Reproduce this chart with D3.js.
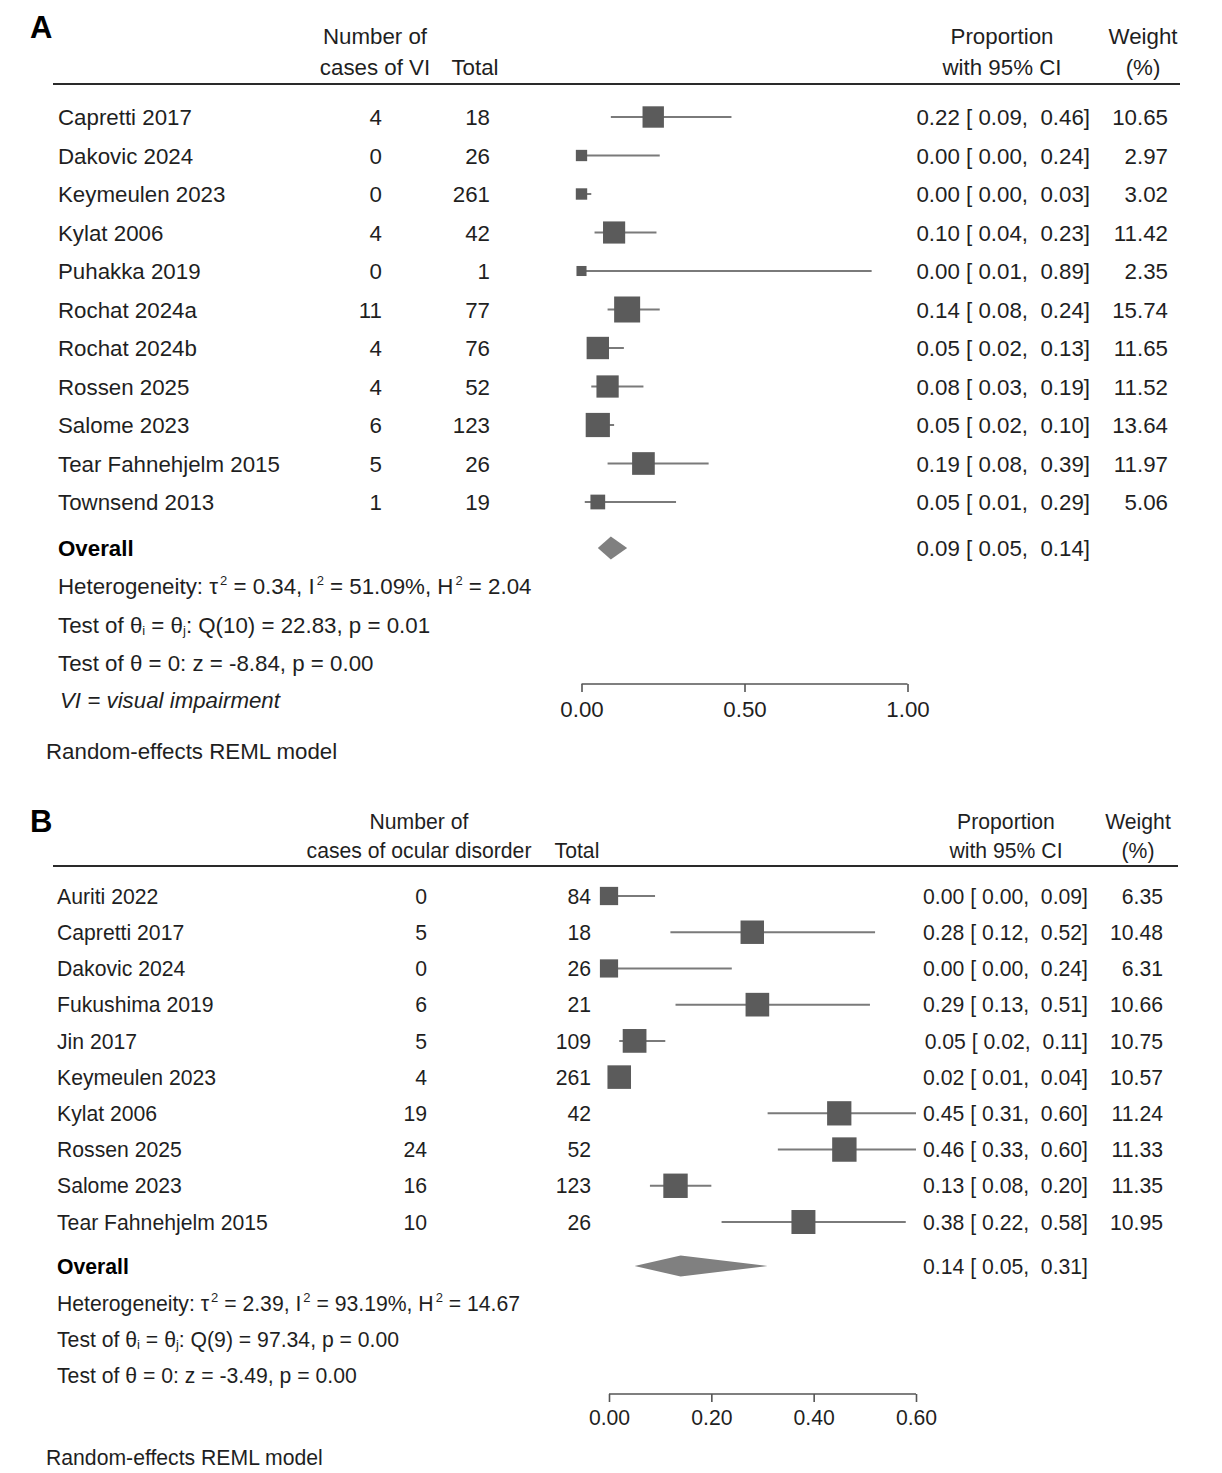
<!DOCTYPE html>
<html>
<head>
<meta charset="utf-8">
<script src="https://cdn.jsdelivr.net/npm/d3@7"></script>
<style>
  html, body { margin: 0; padding: 0; background: #fff; }
  svg text { font-family: "Liberation Sans", Arial, Helvetica, sans-serif; fill: #1f1f1f; }
</style>
</head>
<body>
<svg id="chart" width="1222" height="1473"></svg>
<script>
// ---------- Panel A data ----------
const studiesA = ["Capretti 2017", "Dakovic 2024", "Keymeulen 2023", "Kylat 2006", "Puhakka 2019",
  "Rochat 2024a", "Rochat 2024b", "Rossen 2025", "Salome 2023", "Tear Fahnehjelm 2015", "Townsend 2013"];
const casesA  = [4, 0, 0, 4, 0, 11, 4, 4, 6, 5, 1];
const totalA  = [18, 26, 261, 42, 1, 77, 76, 52, 123, 26, 19];
const propA   = [0.22, 0.00, 0.00, 0.10, 0.00, 0.14, 0.05, 0.08, 0.05, 0.19, 0.05];
const lowA    = [0.09, 0.00, 0.00, 0.04, 0.01, 0.08, 0.02, 0.03, 0.02, 0.08, 0.01];
const highA   = [0.46, 0.24, 0.03, 0.23, 0.89, 0.24, 0.13, 0.19, 0.10, 0.39, 0.29];
const weightA = [10.65, 2.97, 3.02, 11.42, 2.35, 15.74, 11.65, 11.52, 13.64, 11.97, 5.06];
const overallA = [0.09, 0.05, 0.14];
const ticksA = [0, 0.5, 1.0];
const statsA = {
  tau2: "0.34", I2: "51.09%", H2: "2.04", df: "10", Q: "22.83", pQ: "0.01", z: "-8.84", pz: "0.00"
};

// ---------- Panel B data ----------
const studiesB = ["Auriti 2022", "Capretti 2017", "Dakovic 2024", "Fukushima 2019", "Jin 2017",
  "Keymeulen 2023", "Kylat 2006", "Rossen 2025", "Salome 2023", "Tear Fahnehjelm 2015"];
const casesB  = [0, 5, 0, 6, 5, 4, 19, 24, 16, 10];
const totalB  = [84, 18, 26, 21, 109, 261, 42, 52, 123, 26];
const propB   = [0.00, 0.28, 0.00, 0.29, 0.05, 0.02, 0.45, 0.46, 0.13, 0.38];
const lowB    = [0.00, 0.12, 0.00, 0.13, 0.02, 0.01, 0.31, 0.33, 0.08, 0.22];
const highB   = [0.09, 0.52, 0.24, 0.51, 0.11, 0.04, 0.60, 0.60, 0.20, 0.58];
const weightB = [6.35, 10.48, 6.31, 10.66, 10.75, 10.57, 11.24, 11.33, 11.35, 10.95];
const overallB = [0.14, 0.05, 0.31];
const ticksB = [0, 0.2, 0.4, 0.6];
const statsB = {
  tau2: "2.39", I2: "93.19%", H2: "14.67", df: "9", Q: "97.34", pQ: "0.00", z: "-3.49", pz: "0.00"
};

const svg = d3.select("#chart");
const f2 = d3.format(".2f");

function panel(cfg) {
  const FS = cfg.fs;
  const SUP = Math.round(FS * 0.6);
  const g = svg.append("g");
  const n = cfg.studies.length;
  const x = d3.scaleLinear().domain(cfg.domain).range(cfg.xRange);
  const y = d3.scaleLinear().domain([0, n - 1]).range([cfg.firstRowY, cfg.lastRowY]);
  const size = d3.scaleSqrt().domain([0, d3.max(cfg.weight)]).range([0, cfg.maxBox]);
  const base = FS * 0.36; // baseline offset from visual center

  // panel letter
  g.append("text").attr("x", 30).attr("y", cfg.letterY).attr("font-size", 31)
    .attr("font-weight", "bold").style("fill", "#000").text(cfg.letter);

  // headers
  const hdr = (t, xx, yy, anchor) => g.append("text").attr("x", xx).attr("y", yy + base)
    .attr("font-size", FS).attr("text-anchor", anchor || "middle").text(t);
  hdr("Number of", cfg.casesHdrX, cfg.hdr1Y);
  hdr(cfg.casesLabel, cfg.casesHdrX, cfg.hdr2Y);
  hdr("Total", cfg.totalHdrX, cfg.hdr2Y);
  hdr("Proportion", cfg.propHdrX, cfg.hdr1Y);
  hdr("with 95% CI", cfg.propHdrX, cfg.hdr2Y);
  hdr("Weight", cfg.wHdrX, cfg.hdr1Y);
  hdr("(%)", cfg.wHdrX, cfg.hdr2Y);

  g.append("line").attr("x1", 53).attr("x2", cfg.lineX2)
    .attr("y1", cfg.hdrLineY).attr("y2", cfg.hdrLineY)
    .attr("stroke", "#2a2a2a").attr("stroke-width", 2);

  const rows = d3.range(n);
  // text columns
  g.selectAll(".nm").data(rows).join("text")
    .attr("x", cfg.nameX).attr("y", i => y(i) + base).attr("font-size", FS)
    .text(i => cfg.studies[i]);
  g.selectAll(".cs").data(rows).join("text")
    .attr("x", cfg.casesRight).attr("y", i => y(i) + base).attr("font-size", FS)
    .attr("text-anchor", "end").text(i => cfg.cases[i]);
  g.selectAll(".tt").data(rows).join("text")
    .attr("x", cfg.totalRight).attr("y", i => y(i) + base).attr("font-size", FS)
    .attr("text-anchor", "end").text(i => cfg.total[i]);
  const ciStr = (p, l, h) => `${f2(p)} [ ${f2(l)},  ${f2(h)}]`;
  g.selectAll(".ci").data(rows).join("text")
    .attr("x", cfg.ciRight).attr("y", i => y(i) + base).attr("font-size", FS)
    .attr("text-anchor", "end").style("white-space", "pre")
    .text(i => ciStr(cfg.prop[i], cfg.low[i], cfg.high[i]));
  g.selectAll(".wt").data(rows).join("text")
    .attr("x", cfg.wRight).attr("y", i => y(i) + base).attr("font-size", FS)
    .attr("text-anchor", "end").text(i => f2(cfg.weight[i]));

  // CI lines
  g.selectAll(".cil").data(rows).join("line")
    .attr("x1", i => x(cfg.low[i])).attr("x2", i => x(cfg.high[i]))
    .attr("y1", i => y(i)).attr("y2", i => y(i))
    .attr("stroke", "#7a7a7a").attr("stroke-width", 2);
  // boxes
  g.selectAll(".box").data(rows).join("rect")
    .attr("x", i => x(cfg.prop[i]) - size(cfg.weight[i]) / 2)
    .attr("y", i => y(i) - size(cfg.weight[i]) / 2)
    .attr("width", i => size(cfg.weight[i]))
    .attr("height", i => size(cfg.weight[i]))
    .attr("fill", "#5b5b5b");

  // overall
  g.append("text").attr("x", cfg.nameX).attr("y", cfg.overallY + base).attr("font-size", FS)
    .attr("font-weight", "bold").style("fill", "#000").text("Overall");
  const [op, ol, oh] = cfg.overall;
  const dh = cfg.diamondH / 2;
  g.append("path")
    .attr("d", `M${x(ol)},${cfg.overallY} L${x(op)},${cfg.overallY - dh} L${x(oh)},${cfg.overallY} L${x(op)},${cfg.overallY + dh} Z`)
    .attr("fill", "#808080");
  g.append("text").attr("x", cfg.ciRight).attr("y", cfg.overallY + base).attr("font-size", FS)
    .attr("text-anchor", "end").style("white-space", "pre").text(ciStr(op, ol, oh));

  // stats
  const s = cfg.stats;
  const t1 = g.append("text").attr("x", cfg.nameX).attr("y", cfg.statY[0] + base).attr("font-size", FS)
    .style("white-space", "pre");
  t1.append("tspan").text("Heterogeneity: τ");
  t1.append("tspan").attr("font-size", SUP).attr("dy", -9).attr("dx", 2).text("2");
  t1.append("tspan").attr("dy", 9).text(` = ${s.tau2}, I`);
  t1.append("tspan").attr("font-size", SUP).attr("dy", -9).attr("dx", 2).text("2");
  t1.append("tspan").attr("dy", 9).text(` = ${s.I2}, H`);
  t1.append("tspan").attr("font-size", SUP).attr("dy", -9).attr("dx", 2).text("2");
  t1.append("tspan").attr("dy", 9).text(` = ${s.H2}`);

  const t2 = g.append("text").attr("x", cfg.nameX).attr("y", cfg.statY[1] + base).attr("font-size", FS);
  t2.append("tspan").text("Test of θ");
  t2.append("tspan").attr("font-size", SUP).attr("dy", 2).text("i");
  t2.append("tspan").attr("dy", -2).text(" = θ");
  t2.append("tspan").attr("font-size", SUP).attr("dy", 2).text("j");
  t2.append("tspan").attr("dy", -2).text(`: Q(${s.df}) = ${s.Q}, p = ${s.pQ}`);

  g.append("text").attr("x", cfg.nameX).attr("y", cfg.statY[2] + base).attr("font-size", FS)
    .text(`Test of θ = 0: z = ${s.z}, p = ${s.pz}`);

  if (cfg.note) {
    g.append("text").attr("x", cfg.nameX + 2).attr("y", cfg.noteY + base).attr("font-size", FS)
      .attr("font-style", "italic").text(cfg.note);
  }

  // axis
  const ax = g.append("g").attr("transform", `translate(0,${cfg.axisY})`)
    .call(d3.axisBottom(x).tickValues(cfg.ticks).tickFormat(f2).tickSize(8).tickSizeOuter(0));
  ax.select(".domain").attr("stroke", "#555").attr("stroke-width", 1.6);
  ax.selectAll(".tick line").attr("stroke", "#555").attr("stroke-width", 1.6);
  ax.selectAll(".tick text").attr("font-size", FS).attr("font-family", "Liberation Sans, Arial, sans-serif")
    .style("fill", "#1f1f1f").attr("y", 0).attr("dy", cfg.tickLabelDy);
  ax.select(".domain").attr("d", `M${cfg.xRange[0]},0H${x(cfg.domain[1])}`);

  g.append("text").attr("x", 46).attr("y", cfg.modelY + base).attr("font-size", FS)
    .text("Random-effects REML model");
}

panel({
  letter: "A", letterY: 38, fs: 22.3,
  studies: studiesA, cases: casesA, total: totalA, prop: propA, low: lowA, high: highA,
  weight: weightA, overall: overallA, stats: statsA, ticks: ticksA,
  domain: [0, 1], xRange: [581.5, 907.5],
  firstRowY: 117, lastRowY: 502, overallY: 548, statY: [586, 625, 663], noteY: 700,
  note: "VI = visual impairment",
  axisY: 684, tickLabelDy: 33, modelY: 751,
  hdr1Y: 36, hdr2Y: 67, hdrLineY: 84, lineX2: 1180,
  casesLabel: "cases of VI", casesHdrX: 375, totalHdrX: 475, propHdrX: 1002, wHdrX: 1143,
  nameX: 58, casesRight: 382, totalRight: 490, ciRight: 1090, wRight: 1168,
  maxBox: 26, diamondH: 23
});

panel({
  letter: "B", letterY: 832, fs: 21.2,
  studies: studiesB, cases: casesB, total: totalB, prop: propB, low: lowB, high: highB,
  weight: weightB, overall: overallB, stats: statsB, ticks: ticksB,
  domain: [0, 0.6], xRange: [609, 916],
  firstRowY: 896, lastRowY: 1222, overallY: 1266, statY: [1303, 1339, 1375], noteY: null,
  note: null,
  axisY: 1394, tickLabelDy: 31, modelY: 1457,
  hdr1Y: 821, hdr2Y: 850, hdrLineY: 866, lineX2: 1178,
  casesLabel: "cases of ocular disorder", casesHdrX: 419, totalHdrX: 577, propHdrX: 1006, wHdrX: 1138,
  nameX: 57, casesRight: 427, totalRight: 591, ciRight: 1088, wRight: 1163,
  maxBox: 24.4, diamondH: 21
});
</script>
</body>
</html>
